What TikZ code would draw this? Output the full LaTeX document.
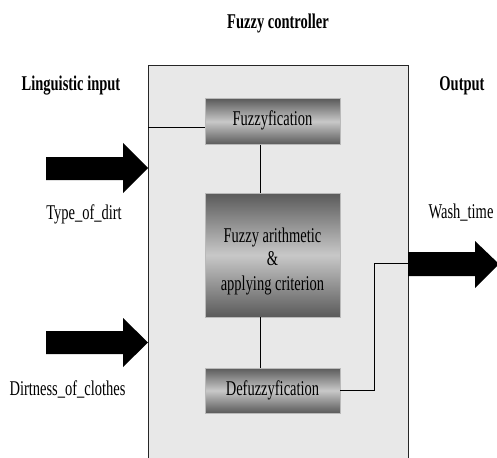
\documentclass[tikz,border=0pt]{standalone}
\usepackage{fontspec}
\setmainfont{Liberation Serif}
\newfontfamily\cond[FakeStretch=0.69]{Liberation Serif}
\definecolor{panel}{HTML}{E8E8E8}
\definecolor{shdark}{HTML}{5A5A5A}
\definecolor{shlight}{HTML}{C8C8C8}
\tikzset{
  txt/.style={inner sep=0pt, font=\cond\fontsize{21}{24}\selectfont},
  boldtxt/.style={inner sep=0pt, font=\cond\fontsize{21}{24}\selectfont\bfseries},
  shadebox/.style={draw=gray!55, line width=0.5pt, top color=shdark, bottom color=shdark, middle color=shlight, minimum width=135pt, inner sep=0pt},
  wire/.style={draw=black, line width=0.8pt},
  fatarrow/.style={fill=black, draw=none}
}
\begin{document}
\begin{tikzpicture}[x=1pt,y=-1pt]
\useasboundingbox (0,0) rectangle (497,457);
\clip (0,0) rectangle (497,457);
% controller panel
\fill[panel] (148,65) rectangle (408,470);
\draw[line width=0.9pt, draw=black!85] (148,470) -- (148,65) -- (408,65) -- (408,470);
\coordinate (ctrlW) at (148,127.5);
\coordinate (ctrlE) at (408,263.5);
% titles
\node[boldtxt, anchor=base] (title) at (278,29) {Fuzzy controller};
\node[boldtxt, anchor=base] (lingin) at (71,90.5) {Linguistic input};
\node[boldtxt, anchor=base] (outlbl) at (462,90.5) {Output};
% blocks
\node[shadebox, minimum height=46pt] (fuzz) at (272.5,121.5) {};
\node[txt, anchor=base] (fuzztxt) at (272.5,126) {Fuzzyfication};
\node[shadebox, minimum height=124pt] (arith) at (272.5,255) {};
\node[txt, anchor=base] (arith1) at (272.5,242) {Fuzzy arithmetic};
\node[txt, anchor=base] (arith2) at (272.5,265.5) {\&};
\node[txt, anchor=base] (arith3) at (272.5,290) {applying criterion};
\node[shadebox, minimum height=45pt] (defuzz) at (272.5,390.5) {};
\node[txt, anchor=base] (defuzztxt) at (272.5,395.5) {Defuzzyfication};
% wires
\draw[wire] (ctrlW) -- (ctrlW -| fuzz.west);
\draw[wire] (fuzz.south -| 260,0) -- (arith.north -| 260,0);
\draw[wire] (arith.south -| 260,0) -- (defuzz.north -| 260,0);
\draw[wire] (defuzz.east |- 0,390.5) -- (374,390.5) -- (374,263.5) -- (ctrlE);
% fat arrows
\fill[fatarrow] (46,157) -- (123,157) -- (123,143) -- (148,168) -- (123,193) -- (123,180) -- (46,180) -- cycle;
\fill[fatarrow] (46,331) -- (123,331) -- (123,318) -- (148,342.5) -- (123,367) -- (123,354) -- (46,354) -- cycle;
\fill[fatarrow] (408,252) -- (475,252) -- (475,241) -- (499,264) -- (475,288) -- (475,276) -- (408,276) -- cycle;
% labels
\node[txt, anchor=base] (tdirt) at (84,219) {Type\_of\_dirt};
\node[txt, anchor=base] (dclothes) at (67.5,395.5) {Dirtness\_of\_clothes};
\node[txt, anchor=base] (wash) at (461,218) {Wash\_time};
\end{tikzpicture}
\end{document}
